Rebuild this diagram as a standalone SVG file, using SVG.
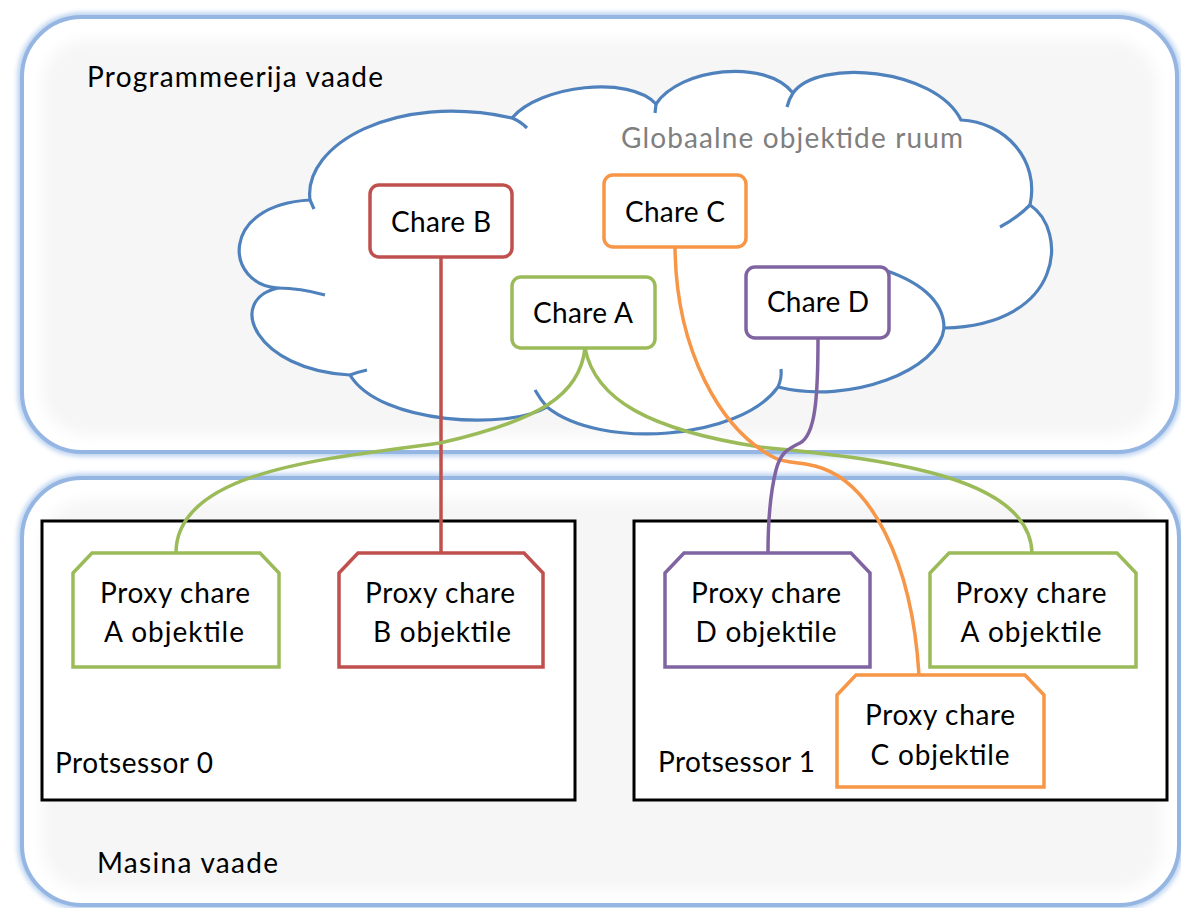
<svg xmlns="http://www.w3.org/2000/svg" width="1181" height="908" viewBox="0 0 1181 908">
<defs>
<filter id="glow" x="-5%" y="-5%" width="110%" height="110%"><feGaussianBlur stdDeviation="2.5"/></filter>
<filter id="soft" x="-5%" y="-5%" width="110%" height="110%"><feGaussianBlur stdDeviation="7"/></filter>
<style>
text{font-family:Lato,"Open Sans","Liberation Sans",sans-serif;font-size:28px;fill:#000}
.mid{text-anchor:middle}
.gray{fill:#7f7f7f}
.panelglow{fill:#fff;stroke:#b8d0ef;stroke-width:9}
.panel{fill:#fff;stroke:#95b6e2;stroke-width:4}
.inner{fill:#f6f6f6}
.cloud{fill:#fff;stroke:#4f81bd;stroke-width:3.2;stroke-linejoin:round}
.tick{fill:none;stroke:#4f81bd;stroke-width:3.2;stroke-linecap:butt}
.conn path{fill:none;stroke-width:3.5}
.red{stroke:#c0504d}
.orange{stroke:#f79646}
.green{stroke:#9bbb59}
.purple{stroke:#8064a2}
.box{fill:#fff;stroke-width:3.5}
.proc{fill:#fff;stroke:#000;stroke-width:3}
</style>
</defs>
<rect width="1181" height="908" fill="#fff"/>

<g id="programmer-view">
<rect x="22" y="17" width="1155" height="435" rx="60" class="panelglow" filter="url(#glow)"/>
<rect x="22" y="17" width="1155" height="435" rx="60" class="panel"/>
<rect x="42" y="40" width="1115" height="395" rx="45" class="inner" filter="url(#soft)"/>
<text x="87" y="87" textLength="296">Programmeerija vaade</text>
</g>

<g id="machine-view">
<rect x="22" y="478" width="1157" height="427" rx="60" class="panelglow" filter="url(#glow)"/>
<rect x="22" y="478" width="1157" height="427" rx="60" class="panel"/>
<rect x="42" y="500" width="1120" height="390" rx="45" class="inner" filter="url(#soft)"/>
<text x="97" y="873" textLength="181">Masina vaade</text>
</g>

<g id="processor-0">
<rect x="42" y="521" width="533" height="279" class="proc"/>
<text x="55" y="773" textLength="158">Protsessor 0</text>
</g>

<g id="processor-1">
<rect x="634" y="521" width="533" height="279" class="proc"/>
<text x="658" y="772" textLength="157">Protsessor 1</text>
</g>

<g id="global-object-space">
<path class="cloud" d="M278,288 C225,285 218,205 310,200 C303,145 395,92 512,118 C540,85 630,75 656,104 C680,68 765,58 793,93 C818,58 935,68 961,120 C1005,122 1040,160 1030,205 C1068,230 1065,325 944,328 C940,370 850,405 778,387 C740,440 600,450 547,407 C510,430 380,425 350,375 C255,370 225,300 278,288 Z"/>
<path class="tick" d="M278,288 Q300,288 325,295"/>
<path class="tick" d="M310,200 L314,209"/>
<path class="tick" d="M512,118 Q520,121 527,128"/>
<path class="tick" d="M656,104 L655,113"/>
<path class="tick" d="M793,93 Q789,99 787,107"/>
<path class="tick" d="M1030,205 Q1017,218 1000,227"/>
<path class="tick" d="M778,387 Q782,378 781,369"/>
<path class="tick" d="M547,407 Q540,399 535,390"/>
<path class="tick" d="M350,375 Q358,372 367,370"/>
<path class="tick" d="M878,268 C918,280 944,300 944,328"/>
<text x="621" y="148" class="gray" textLength="342">Globaalne objektide ruum</text>
</g>

<g id="connectors" class="conn">
<path class="red" d="M441,257 L441,553"/>
<path class="green" d="M585,348 C580,395 540,420 440,443 C330,458 176,470 176,553"/>
<path class="green" d="M585,348 C595,400 650,430 760,447 C900,460 1030,480 1032,553"/>
<path class="orange" d="M675,247 C676,350 720,430 775,458 C785,463 800,462 815,466 C870,480 912,560 919,675"/>
<path class="purple" d="M818,338 C818,400 815,435 800,443 C785,450 780,455 776,470 C771,490 768,520 768,553"/>
</g>

<g id="chare-b">
<rect x="370" y="185" width="142" height="72" rx="9" class="box red"/>
<text x="441" y="232" class="mid" textLength="100">Chare B</text>
</g>
<g id="chare-c">
<rect x="604" y="175" width="142" height="72" rx="9" class="box orange"/>
<text x="675" y="222" class="mid" textLength="100">Chare C</text>
</g>
<g id="chare-a">
<rect x="512" y="277" width="143" height="71" rx="9" class="box green"/>
<text x="583" y="323" class="mid" textLength="100">Chare A</text>
</g>
<g id="chare-d">
<rect x="746" y="267" width="143" height="71" rx="9" class="box purple"/>
<text x="818" y="312" class="mid" textLength="102">Chare D</text>
</g>

<g id="proxy-a-p0">
<polygon points="92,553 260,553 279,573 279,667 73,667 73,573" class="box green"/>
<text x="175" y="603" class="mid" textLength="150">Proxy chare</text>
<text x="174" y="642" class="mid" textLength="140">A objektile</text>
</g>
<g id="proxy-b-p0">
<polygon points="358,553 524,553 543,573 543,667 339,667 339,573" class="box red"/>
<text x="440" y="603" class="mid" textLength="150">Proxy chare</text>
<text x="442" y="642" class="mid" textLength="138">B objektile</text>
</g>
<g id="proxy-d-p1">
<polygon points="684,553 851,553 870,573 870,667 665,667 665,573" class="box purple"/>
<text x="766" y="603" class="mid" textLength="150">Proxy chare</text>
<text x="766" y="642" class="mid" textLength="141">D objektile</text>
</g>
<g id="proxy-a-p1">
<polygon points="949,553 1117,553 1136,573 1136,667 930,667 930,573" class="box green"/>
<text x="1031" y="603" class="mid" textLength="151">Proxy chare</text>
<text x="1031" y="642" class="mid" textLength="141">A objektile</text>
</g>
<g id="proxy-c-p1">
<polygon points="856,675 1025,675 1044,695 1044,787 837,787 837,695" class="box orange"/>
<text x="940" y="725" class="mid" textLength="150">Proxy chare</text>
<text x="940" y="765" class="mid" textLength="139">C objektile</text>
</g>
</svg>
